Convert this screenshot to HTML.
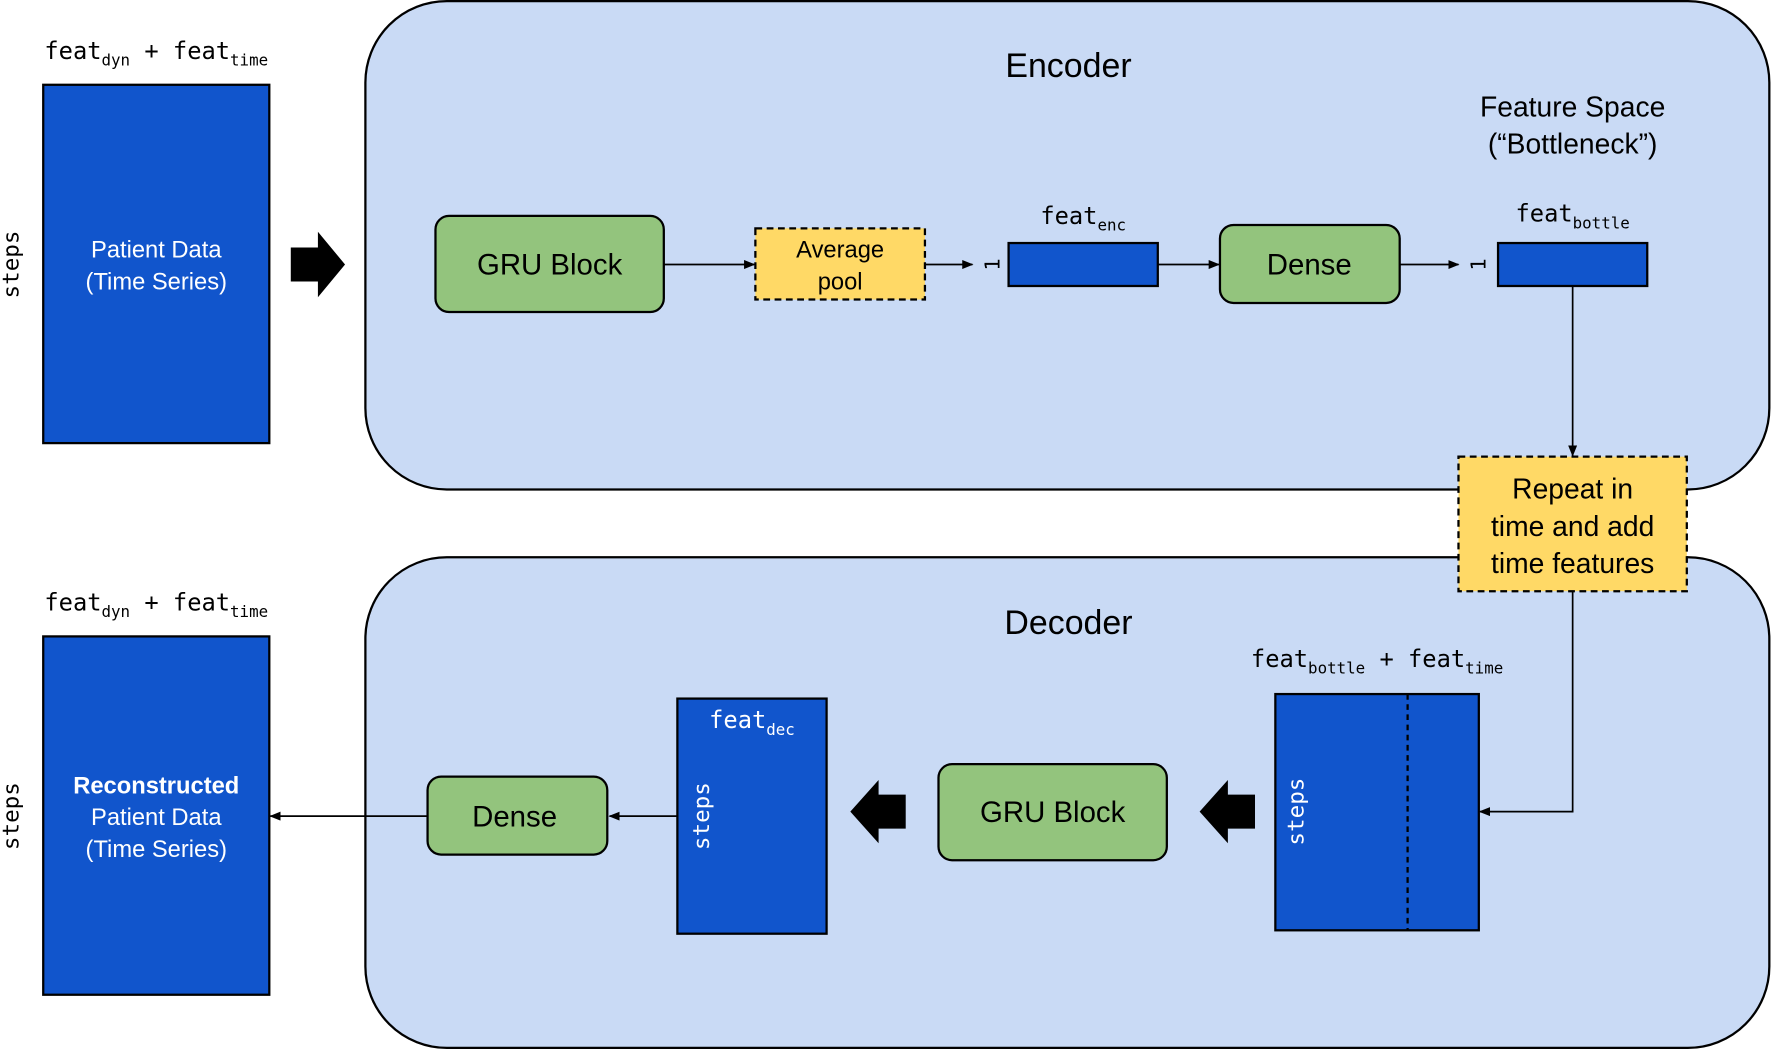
<!DOCTYPE html>
<html><head><meta charset="utf-8"><style>
html,body{margin:0;padding:0;background:#fff}
svg{display:block}
.t{font-family:"Liberation Sans",sans-serif}
.m{font-family:"DejaVu Sans Mono","Liberation Mono",monospace}
</style></head><body>
<svg width="1773" height="1049" viewBox="0 0 1568 928" xmlns="http://www.w3.org/2000/svg">
<defs>
<marker id="a" markerWidth="10" markerHeight="8" refX="9" refY="4" orient="auto" markerUnits="userSpaceOnUse"><path d="M0,0 L10,4 L0,8 z" fill="#000"/></marker>
</defs>
<rect x="323" y="1" width="1242" height="432" rx="72" fill="#c9daf5" stroke="#000" stroke-width="2"/>
<rect x="323" y="493" width="1242" height="434" rx="72" fill="#c9daf5" stroke="#000" stroke-width="2"/>
<text x="945" y="68" class="t" font-size="30" text-anchor="middle">Encoder</text>
<text x="945" y="561" class="t" font-size="30" text-anchor="middle">Decoder</text>
<text x="1391" y="103" class="t" font-size="25" text-anchor="middle">Feature Space</text>
<text x="1391" y="136" class="t" font-size="25" text-anchor="middle">(“Bottleneck”)</text>

<text x="138" y="52" class="m" font-size="21" text-anchor="middle">feat<tspan font-size="14" dy="6">dyn</tspan><tspan dy="-6"> + feat</tspan><tspan font-size="14" dy="6">time</tspan></text>
<rect x="38" y="75" width="200" height="317" fill="#1155cc" stroke="#000" stroke-width="2"/>
<text x="138" y="228" class="t" font-size="21" fill="#fff" text-anchor="middle">Patient Data</text>
<text x="138" y="256" class="t" font-size="21" fill="#fff" text-anchor="middle">(Time Series)</text>
<text transform="translate(16,234) rotate(-90)" class="m" font-size="20" text-anchor="middle">steps</text>
<path d="M257,219 L281,219 L281,205 L305,234 L281,263 L281,249 L257,249 z" fill="#000"/>

<rect x="385" y="191" width="202" height="85" rx="12" fill="#93c47d" stroke="#000" stroke-width="2"/>
<text x="486" y="243" class="t" font-size="26" text-anchor="middle">GRU Block</text>
<line x1="587" y1="234" x2="667" y2="234" stroke="#000" stroke-width="1.5" marker-end="url(#a)"/>
<rect x="668" y="202" width="150" height="63" fill="#ffd966" stroke="#000" stroke-width="2" stroke-dasharray="6,4"/>
<text x="743" y="228" class="t" font-size="21" text-anchor="middle">Average</text>
<text x="743" y="256" class="t" font-size="21" text-anchor="middle">pool</text>
<line x1="818" y1="234" x2="860" y2="234" stroke="#000" stroke-width="1.5" marker-end="url(#a)"/>
<text transform="translate(884,234) rotate(-90)" class="m" font-size="18" text-anchor="middle">1</text>
<text x="958" y="198" class="m" font-size="21" text-anchor="middle">feat<tspan font-size="14" dy="6">enc</tspan></text>
<rect x="892" y="215" width="132" height="38" fill="#1155cc" stroke="#000" stroke-width="2"/>
<line x1="1024" y1="234" x2="1078" y2="234" stroke="#000" stroke-width="1.5" marker-end="url(#a)"/>
<rect x="1079" y="199" width="159" height="69" rx="12" fill="#93c47d" stroke="#000" stroke-width="2"/>
<text x="1158" y="243" class="t" font-size="26" text-anchor="middle">Dense</text>
<line x1="1238" y1="234" x2="1290" y2="234" stroke="#000" stroke-width="1.5" marker-end="url(#a)"/>
<text transform="translate(1314,234) rotate(-90)" class="m" font-size="18" text-anchor="middle">1</text>
<text x="1391" y="196" class="m" font-size="21" text-anchor="middle">feat<tspan font-size="14" dy="6">bottle</tspan></text>
<rect x="1325" y="215" width="132" height="38" fill="#1155cc" stroke="#000" stroke-width="2"/>
<line x1="1391" y1="253" x2="1391" y2="403" stroke="#000" stroke-width="1.5" marker-end="url(#a)"/>

<rect x="1290" y="404" width="202" height="119" fill="#ffd966" stroke="#000" stroke-width="2" stroke-dasharray="6,4"/>
<text x="1391" y="441" class="t" font-size="25" text-anchor="middle">Repeat in</text>
<text x="1391" y="474" class="t" font-size="25" text-anchor="middle">time and add</text>
<text x="1391" y="507" class="t" font-size="25" text-anchor="middle">time features</text>
<polyline points="1391,523 1391,718 1309,718" fill="none" stroke="#000" stroke-width="1.5" marker-end="url(#a)"/>

<text x="1218" y="590" class="m" font-size="21" text-anchor="middle">feat<tspan font-size="14" dy="6">bottle</tspan><tspan dy="-6"> + feat</tspan><tspan font-size="14" dy="6">time</tspan></text>
<rect x="1128" y="614" width="180" height="209" fill="#1155cc" stroke="#000" stroke-width="2"/>
<line x1="1245" y1="614" x2="1245" y2="823" stroke="#000" stroke-width="2" stroke-dasharray="5,4"/>
<text transform="translate(1153,718) rotate(-90)" class="m" font-size="20" fill="#fff" text-anchor="middle">steps</text>
<path d="M1110,703 L1086,703 L1086,690 L1061,718 L1086,746 L1086,733 L1110,733 z" fill="#000"/>
<rect x="830" y="676" width="202" height="85" rx="12" fill="#93c47d" stroke="#000" stroke-width="2"/>
<text x="931" y="727" class="t" font-size="26" text-anchor="middle">GRU Block</text>
<path d="M801,703 L777,703 L777,690 L752,718 L777,746 L777,733 L801,733 z" fill="#000"/>
<rect x="599" y="618" width="132" height="208" fill="#1155cc" stroke="#000" stroke-width="2"/>
<text x="665" y="644" class="m" font-size="21" fill="#fff" text-anchor="middle">feat<tspan font-size="14" dy="6">dec</tspan></text>
<text transform="translate(627,722) rotate(-90)" class="m" font-size="20" fill="#fff" text-anchor="middle">steps</text>
<line x1="599" y1="722" x2="539" y2="722" stroke="#000" stroke-width="1.5" marker-end="url(#a)"/>
<rect x="378" y="687" width="159" height="69" rx="12" fill="#93c47d" stroke="#000" stroke-width="2"/>
<text x="455" y="731" class="t" font-size="26" text-anchor="middle">Dense</text>
<line x1="378" y1="722" x2="239" y2="722" stroke="#000" stroke-width="1.5" marker-end="url(#a)"/>

<text x="138" y="540" class="m" font-size="21" text-anchor="middle">feat<tspan font-size="14" dy="6">dyn</tspan><tspan dy="-6"> + feat</tspan><tspan font-size="14" dy="6">time</tspan></text>
<rect x="38" y="563" width="200" height="317" fill="#1155cc" stroke="#000" stroke-width="2"/>
<text x="138" y="702" class="t" font-size="21" fill="#fff" font-weight="bold" text-anchor="middle">Reconstructed</text>
<text x="138" y="730" class="t" font-size="21" fill="#fff" text-anchor="middle">Patient Data</text>
<text x="138" y="758" class="t" font-size="21" fill="#fff" text-anchor="middle">(Time Series)</text>
<text transform="translate(16,722) rotate(-90)" class="m" font-size="20" text-anchor="middle">steps</text>
</svg>
</body></html>
